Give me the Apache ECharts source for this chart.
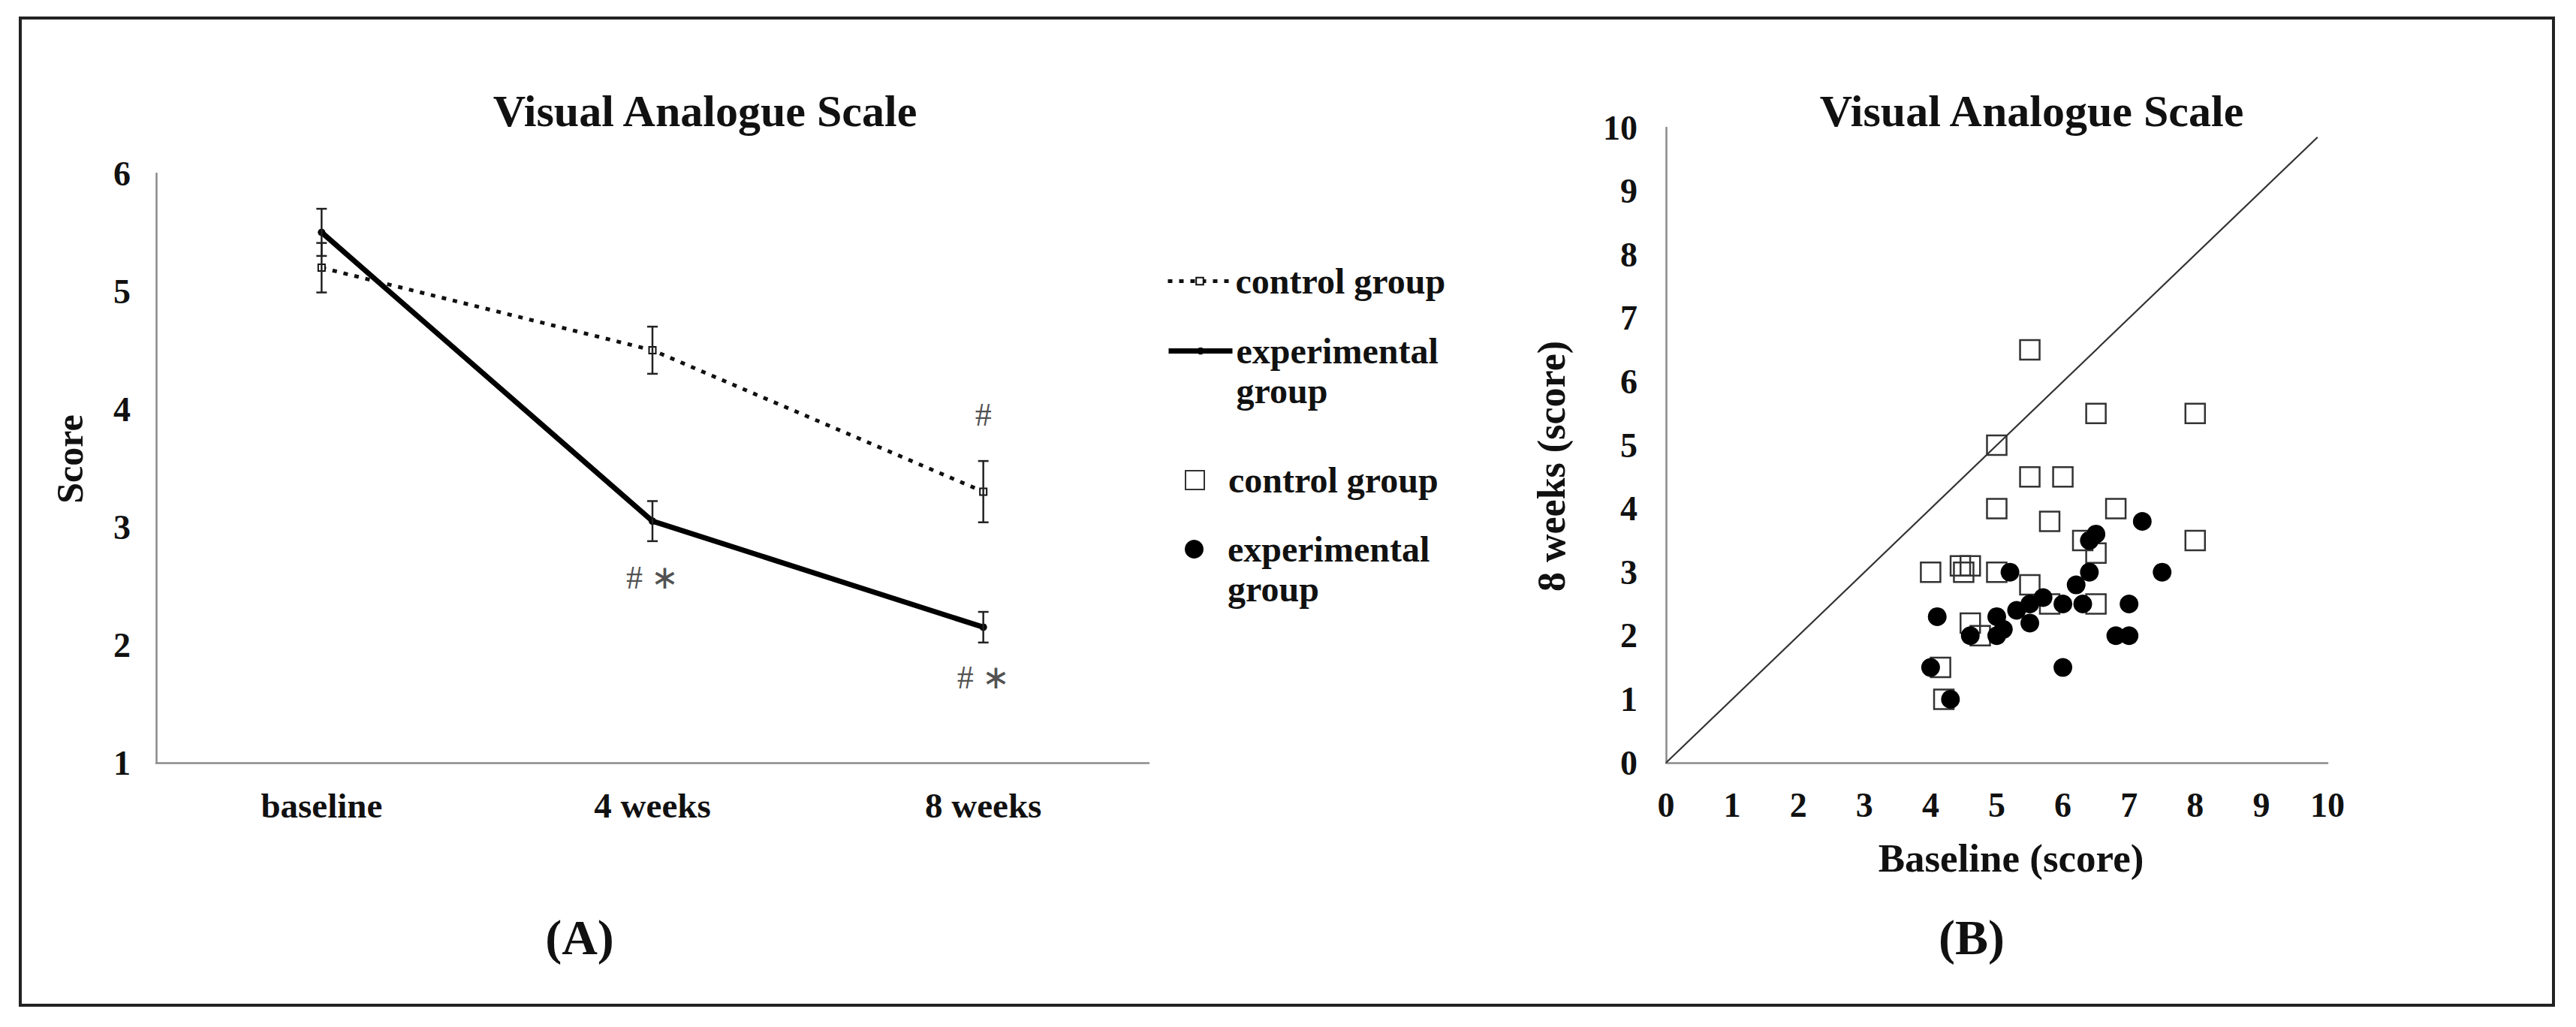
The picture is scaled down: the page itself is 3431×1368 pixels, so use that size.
<!DOCTYPE html>
<html><head><meta charset="utf-8">
<script src="https://cdn.jsdelivr.net/npm/echarts@6/dist/echarts.min.js"></script>
<style>html,body{margin:0;padding:0;background:#fff}#c{width:3431px;height:1368px}</style>
</head><body><div id="c"></div>
<script>
// ---- Panel A data ----
const timepoints = ['baseline', '4 weeks', '8 weeks'];
const controlMean = [5.2, 4.5, 3.3];
const controlErr = [0.21, 0.2, 0.26];
const experimentalMean = [5.5, 3.05, 2.15];
const experimentalErr = [0.2, 0.17, 0.13];
const annotationCat = ['8 weeks', '4 weeks', '8 weeks'];
const annotationY = [3.95, 2.57, 1.72];
const annotationText = ['#', '# \u2217', '# \u2217'];
const scoreTicks = [1, 6, 1]; // min, max, interval

// ---- Panel B data (baseline score, 8-week score) ----
const controlBaseline = [5.5, 6.5, 8, 5, 5.5, 6, 5, 6.8, 5.8, 6.3, 8, 6.5, 4, 4.45, 4.6, 4.5, 5, 5.5, 5.8, 6.5, 4.6, 4.75, 4.15, 4.2];
const controlWeek8   = [6.5, 5.5, 5.5, 5, 4.5, 4.5, 4, 4, 3.8, 3.5, 3.5, 3.3, 3, 3.1, 3.1, 3.0, 3, 2.8, 2.5, 2.5, 2.2, 2.0, 1.5, 1.0];
const expBaseline = [7.2, 6.5, 6.4, 7.5, 6.4, 5.2, 6.2, 5.7, 5.5, 6.0, 6.3, 7.0, 5.3, 4.1, 5.0, 5.1, 5.5, 4.6, 5.0, 6.8, 7.0, 4.0, 6.0, 4.3];
const expWeek8    = [3.8, 3.6, 3.5, 3.0, 3.0, 3.0, 2.8, 2.6, 2.5, 2.5, 2.5, 2.5, 2.4, 2.3, 2.3, 2.1, 2.2, 2.0, 2.0, 2.0, 2.0, 1.5, 1.5, 1.0];
const identityX = [0, 9.85];
const identityY = [0, 9.85];
const scatterTicks = [0, 10, 1];

const FONT = 'Liberation Serif';
const TXT = '#111';
const AXIS = '#8a8a8a';

function errRender(params, api) {
  const x = api.value(0), m = api.value(1), e = api.value(2);
  const t = api.coord([x, m + e]), b = api.coord([x, m - e]);
  const hw = 7, st = { stroke: '#222', lineWidth: 2.5 };
  return { type: 'group', children: [
    { type: 'line', shape: { x1: t[0], y1: t[1], x2: b[0], y2: b[1] }, style: st },
    { type: 'line', shape: { x1: t[0] - hw, y1: t[1], x2: t[0] + hw, y2: t[1] }, style: st },
    { type: 'line', shape: { x1: b[0] - hw, y1: b[1], x2: b[0] + hw, y2: b[1] }, style: st }
  ]};
}

const axisLabelStyle = { fontFamily: FONT, fontWeight: 'bold', fontSize: 46, color: TXT };
const legendRich = {
  t: { fontFamily: FONT, fontWeight: 'bold', fontSize: 48, color: TXT, lineHeight: 53 },
  b: { fontSize: 10, lineHeight: 53 },
  p: { width: 27, lineHeight: 53 }
};

function mkLegend(name, lines, left, top, w, h, pad, lineStyle) {
  const pre = pad ? '{p|}' : '';
  let txt = lines.map(l => pre + '{t|' + l + '}').join('\n');
  if (lines.length > 1) txt = '{b| }\n' + txt;
  const lg = {
    data: [name], left: left, top: top, orient: 'vertical', padding: 0,
    itemWidth: w, itemHeight: h, selectedMode: false,
    formatter: () => txt,
    textStyle: { fontFamily: FONT, fontWeight: 'bold', fontSize: 48, color: TXT, lineHeight: 53, rich: legendRich }
  };
  if (lineStyle) lg.lineStyle = lineStyle;
  return lg;
}

const chart = echarts.init(document.getElementById('c'), null, { renderer: 'svg' });
chart.setOption({
  animation: false,
  backgroundColor: '#fff',
  grid: [
    { left: 208, top: 231, width: 1322, height: 785 },
    { left: 2219, top: 170, width: 881, height: 846 }
  ],
  xAxis: [
    { gridIndex: 0, type: 'category', data: timepoints, boundaryGap: true,
      axisTick: { show: false }, axisLine: { lineStyle: { color: AXIS, width: 2.5 } },
      axisLabel: Object.assign({ margin: 33 }, axisLabelStyle, { fontSize: 47 }), splitLine: { show: false } },
    { gridIndex: 1, type: 'value', min: scatterTicks[0], max: scatterTicks[1], interval: scatterTicks[2],
      name: 'Baseline (score)', nameLocation: 'middle', nameGap: 100,
      nameTextStyle: { fontFamily: FONT, fontWeight: 'bold', fontSize: 53, color: TXT, padding: [0, 0, 0, 38] },
      axisTick: { show: false }, axisLine: { lineStyle: { color: AXIS, width: 2.5 } },
      axisLabel: Object.assign({ margin: 33 }, axisLabelStyle), splitLine: { show: false } }
  ],
  yAxis: [
    { gridIndex: 0, type: 'value', min: scoreTicks[0], max: scoreTicks[1], interval: scoreTicks[2],
      name: 'Score', nameLocation: 'middle', nameGap: 90,
      nameTextStyle: { fontFamily: FONT, fontWeight: 'bold', fontSize: 50, color: TXT, padding: [0, 0, 0, 24] },
      axisTick: { show: false }, axisLine: { show: true, lineStyle: { color: AXIS, width: 2.5 } },
      axisLabel: Object.assign({ margin: 34 }, axisLabelStyle), splitLine: { show: false } },
    { gridIndex: 1, type: 'value', min: scatterTicks[0], max: scatterTicks[1], interval: scatterTicks[2],
      name: '8 weeks (score)', nameLocation: 'middle', nameGap: 127,
      nameTextStyle: { fontFamily: FONT, fontWeight: 'bold', fontSize: 52, color: TXT, padding: [0, 56, 0, 0] },
      axisTick: { show: false }, axisLine: { show: true, lineStyle: { color: AXIS, width: 2.5 } },
      axisLabel: Object.assign({ margin: 38 }, axisLabelStyle), splitLine: { show: false } }
  ],
  legend: [
    mkLegend('control group (mean)', ['control group'], 1553, 348, 85, 12, false, { width: 5, type: [6, 9], color: '#111' }),
    mkLegend('experimental group (mean)', ['experimental', 'group'], 1553, 388, 85, 12, false, { width: 7, color: '#000' }),
    mkLegend('control group (individual)', ['control group'], 1578, 613, 25, 25, true),
    mkLegend('experimental group (individual)', ['experimental', 'group'], 1578, 652, 25, 25, true)
  ],
  series: [
    { name: 'control group (mean)', type: 'line', xAxisIndex: 0, yAxisIndex: 0,
      data: controlMean, symbol: 'rect', symbolSize: 9,
      itemStyle: { color: '#fff', borderColor: '#111', borderWidth: 2 },
      lineStyle: { color: '#111', width: 5, type: [6, 9] }, z: 3 },
    { name: 'experimental group (mean)', type: 'line', xAxisIndex: 0, yAxisIndex: 0,
      data: experimentalMean, symbol: 'circle', symbolSize: 10,
      itemStyle: { color: '#000' }, lineStyle: { color: '#000', width: 7 }, z: 4 },
    { type: 'custom', xAxisIndex: 0, yAxisIndex: 0, renderItem: errRender, z: 5,
      data: controlMean.map((m, i) => [i, m, controlErr[i]]) },
    { type: 'custom', xAxisIndex: 0, yAxisIndex: 0, renderItem: errRender, z: 5,
      data: experimentalMean.map((m, i) => [i, m, experimentalErr[i]]) },
    { type: 'scatter', xAxisIndex: 0, yAxisIndex: 0, symbolSize: 1,
      itemStyle: { color: 'rgba(0,0,0,0)' }, silent: true,
      data: annotationCat.map((c, i) => [c, annotationY[i], annotationText[i]]),
      label: { show: true, position: 'inside', formatter: p => p.value[2],
        fontFamily: FONT, fontSize: 44, color: '#222' } },
    { type: 'line', xAxisIndex: 1, yAxisIndex: 1, symbol: 'none', silent: true,
      data: identityX.map((x, i) => [x, identityY[i]]),
      lineStyle: { color: '#333', width: 2.2 } },
    { name: 'control group (individual)', type: 'scatter', xAxisIndex: 1, yAxisIndex: 1,
      data: controlBaseline.map((x, i) => [x, controlWeek8[i]]), symbol: 'rect', symbolSize: 26,
      itemStyle: { color: 'rgba(255,255,255,0)', borderColor: '#333', borderWidth: 2.5, opacity: 1 } },
    { name: 'experimental group (individual)', type: 'scatter', xAxisIndex: 1, yAxisIndex: 1,
      data: expBaseline.map((x, i) => [x, expWeek8[i]]), symbol: 'circle', symbolSize: 25,
      itemStyle: { color: '#000', opacity: 1 } }
  ],
  graphic: [
    { type: 'rect', shape: { x: 27, y: 24, width: 3374, height: 1315 }, style: { fill: 'none', stroke: '#222', lineWidth: 4 }, silent: true },
    { type: 'text', x: 939, y: 148, style: { text: 'Visual Analogue Scale', font: 'bold 60px "Liberation Serif"', fill: TXT, align: 'center', verticalAlign: 'middle' } },
    { type: 'text', x: 2706, y: 148, style: { text: 'Visual Analogue Scale', font: 'bold 60px "Liberation Serif"', fill: TXT, align: 'center', verticalAlign: 'middle' } },
    { type: 'text', x: 772, y: 1248, style: { text: '(A)', font: 'bold 66px "Liberation Serif"', fill: TXT, align: 'center', verticalAlign: 'middle' } },
    { type: 'text', x: 2626, y: 1248, style: { text: '(B)', font: 'bold 66px "Liberation Serif"', fill: TXT, align: 'center', verticalAlign: 'middle' } }
  ]
});
</script></body></html>
